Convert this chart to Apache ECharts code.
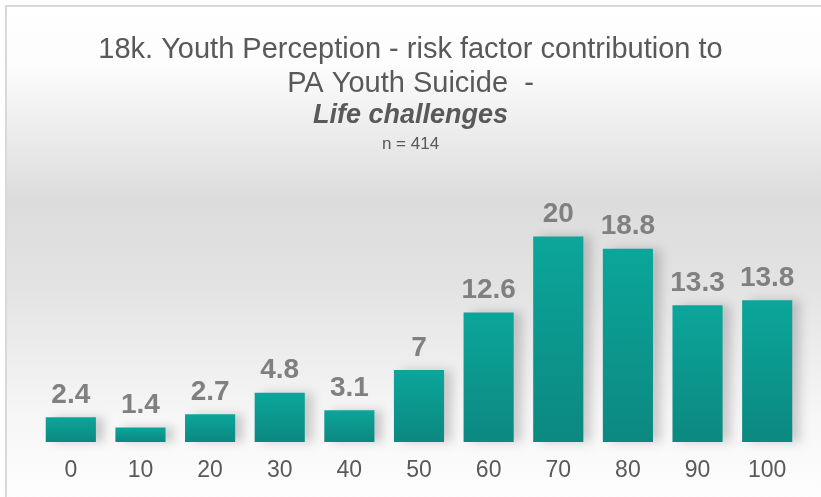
<!DOCTYPE html>
<html>
<head>
<meta charset="utf-8">
<script src="https://cdn.jsdelivr.net/npm/echarts@6/dist/echarts.min.js"></script>
<style>
  html, body { margin: 0; padding: 0; background: #fff; }
  #main { width: 821px; height: 497px; }
</style>
</head>
<body>
<div id="main"></div>
<script>
var categories = ['0', '10', '20', '30', '40', '50', '60', '70', '80', '90', '100'];
var values = [2.4, 1.4, 2.7, 4.8, 3.1, 7, 12.6, 20, 18.8, 13.3, 13.8];

var chart = echarts.init(document.getElementById('main'));

chart.setOption({
  animation: false,
  backgroundColor: '#ffffff',
  graphic: [{
    type: 'rect',
    z: -10,
    shape: { x: 6, y: 6, width: 830, height: 510 },
    style: {
      fill: new echarts.graphic.LinearGradient(0, 0, 0, 1, [
        { offset: 0, color: '#ffffff' },
        { offset: 0.12, color: '#fcfcfc' },
        { offset: 0.38, color: '#dcdcdc' },
        { offset: 0.55, color: '#e3e3e3' },
        { offset: 0.8, color: '#f6f6f6' },
        { offset: 1, color: '#ffffff' }
      ]),
      stroke: '#d9d9d9',
      lineWidth: 2
    }
  }],
  title: {
    left: 'center',
    top: 28,
    text: '{a|18k. Youth Perception - risk factor contribution to}\n{a|PA Youth Suicide  -}\n{b|Life challenges}\n{c|n = 414}',
    textStyle: {
      rich: {
        a: { fontFamily: 'Liberation Sans', fontSize: 29, fontWeight: 'normal', color: '#595959', lineHeight: 34 },
        b: { fontFamily: 'Liberation Sans', fontSize: 27, fontWeight: 'bold', fontStyle: 'italic', color: '#595959', lineHeight: 30 },
        c: { fontFamily: 'Liberation Sans', fontSize: 17, fontWeight: 'normal', color: '#595959', lineHeight: 26 }
      }
    }
  },
  grid: { left: 36, right: 19, top: 185, bottom: 55 },
  xAxis: {
    type: 'category',
    data: categories,
    axisLine: { show: false },
    axisTick: { show: false },
    axisLabel: { fontFamily: 'Liberation Sans', fontSize: 23, color: '#595959', margin: 17 }
  },
  yAxis: {
    type: 'value',
    min: 0,
    max: 25,
    show: false,
    splitLine: { show: false }
  },
  series: [{
    type: 'bar',
    data: values,
    barCategoryGap: '28%',
    itemStyle: {
      color: new echarts.graphic.LinearGradient(0, 0, 0, 1, [
        { offset: 0, color: '#0ba69b' },
        { offset: 1, color: '#0c8880' }
      ]),
      shadowColor: 'rgba(0,0,0,0.18)',
      shadowBlur: 10,
      shadowOffsetX: 8,
      shadowOffsetY: 0
    },
    label: {
      show: true,
      position: 'top',
      distance: 8,
      fontFamily: 'Liberation Sans',
      fontSize: 28,
      fontWeight: 'bold',
      color: '#808080'
    }
  }]
});
</script>
</body>
</html>
